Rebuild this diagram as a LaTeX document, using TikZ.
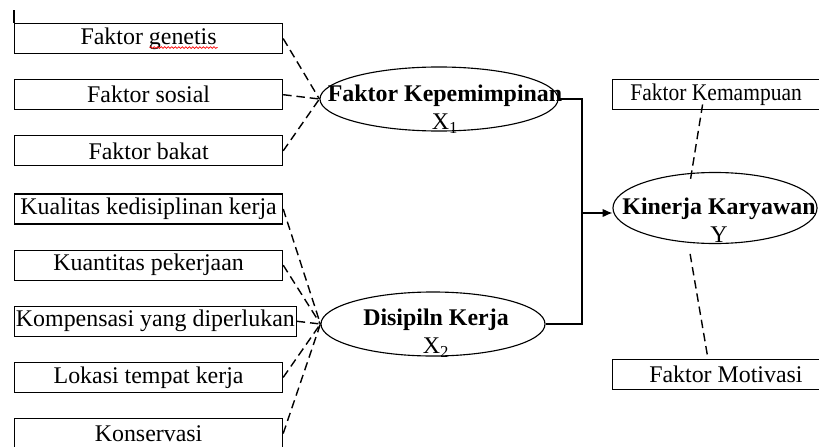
\documentclass[tikz,border=0pt]{standalone}
\usepackage{fontspec}
\setmainfont{Liberation Serif}
\usetikzlibrary{arrows.meta,positioning,shapes.geometric,calc,decorations.pathmorphing}

\begin{document}
\begin{tikzpicture}[x=0.025cm, y=-0.025cm, >=Latex, node distance=0.625cm,
  font=\fontsize{17}{20}\selectfont,
  fbox/.style={draw,line width=0.8pt,minimum width=6.7cm,minimum height=0.75cm,
    inner xsep=1pt,inner ysep=0pt,anchor=north west},
  var/.style={draw,ellipse,line width=0.8pt,inner sep=0pt},
  lbl/.style={align=center,inner sep=0pt},
  link/.style={line width=1pt,dash pattern=on 6pt off 3.5pt}]
\useasboundingbox (0,0) rectangle (819,446);

% indicators of X1
\node[fbox] (gen) at (14,23) {Faktor genetis};
\node[fbox,below=of gen.south west,anchor=north west] (sos) {Faktor sosial};
\node[fbox,below=of sos.south west,anchor=north west] (bak) {Faktor bakat};
\draw[line width=0.8pt] (gen.north west) -- ++(0,-13);
\draw[red,line width=0.5pt,decorate,decoration={snake,amplitude=0.6pt,segment length=2.5pt}]
  ($(gen.center)+(1,9)$) -- ($(gen.center)+(69,9)$);

% indicators of X2
\node[fbox,below=0.675cm of bak.south west,anchor=north west] (kua) {Kualitas kedisiplinan kerja};
\node[fbox,below=of kua.south west,anchor=north west] (kuan) {Kuantitas pekerjaan};
\node[fbox,below=of kuan.south west,anchor=north west] (komp) {Kompensasi yang diperlukan};
\node[fbox,below=of komp.south west,anchor=north west] (lok) {Lokasi tempat kerja};
\node[fbox,below=of lok.south west,anchor=north west] (kons) {Konservasi};

% variables
\node[var,minimum width=5.95cm,minimum height=1.6cm] (x1) at (439,99) {};
\node[lbl] (x1t) at (445,109) {\textbf{Faktor Kepemimpinan}\\X\textsubscript{1}};
\node[var,minimum width=5.6cm,minimum height=1.6cm] (x2) at (433,324) {};
\node[lbl] (x2t) at (436,333) {\textbf{Disipiln Kerja}\\X\textsubscript{2}};
\node[var,minimum width=5.1cm,minimum height=1.775cm] (kin) at (715,208) {};
\node[lbl] (kint) at (719,220) {\textbf{Kinerja Karyawan}\\Y};

% indicators of Y
\node[fbox,minimum width=5.175cm] (kem) at (612,79) {\scalebox{0.9}[1]{Faktor Kemampuan}};
\node[fbox,minimum width=5.175cm] (mot) at (612,359) {\hspace*{14pt}Faktor Motivasi};

% paths
\coordinate (jn) at (582,213);
\draw[line width=0.8pt] (x1.east) -| (jn);
\draw[line width=0.8pt] (x2.east) -| (jn);
\draw[line width=0.8pt,-{Latex[length=7pt,width=6pt]}] (jn) -- (jn -| kin.west);

\foreach \n in {gen,sos,bak}
  \draw[link] (\n.east) -- (x1.west);
\foreach \n in {kua,kuan,komp,lok,kons}
  \draw[link] (\n.east) -- (x2.west);
\draw[link] ([xshift=-9.6pt,yshift=4pt]kem.south) -- ([xshift=-17.7pt,yshift=-7pt]kin.north);
\draw[link] ([xshift=-17.7pt,yshift=-7pt]kin.south) -- ([xshift=-6pt,yshift=1.5pt]mot.north);
\end{tikzpicture}
\end{document}
